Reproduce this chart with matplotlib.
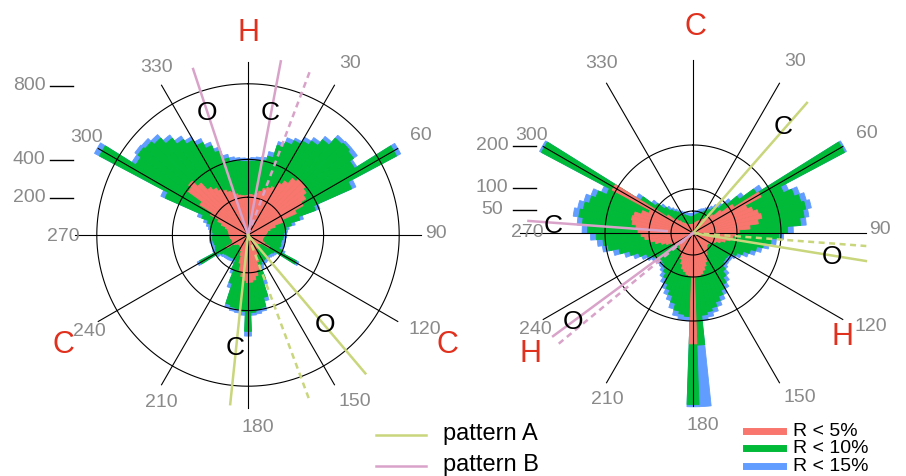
import numpy as np
import matplotlib
matplotlib.use("Agg")
import matplotlib.pyplot as plt
from matplotlib.lines import Line2D

plt.rcParams['font.family'] = ['Liberation Sans', 'DejaVu Sans']

# angular bins (degrees, clockwise from north), 4 degree wide
theta = np.arange(0, 360, 4)

# left panel counts, one value per bin
left_r15 = [405, 410, 415, 420, 455, 520, 555, 570, 598, 622, 662, 710, 715, 715, 680,
            915, 625, 405, 305, 255, 220, 210, 205, 205, 200, 200, 195, 200, 195, 215,
            305, 180, 175, 170, 165, 170, 172, 175, 180, 195, 275, 360, 410, 420, 425,
            535, 425, 415, 410, 400, 295, 220, 170, 162, 165, 168, 170, 172, 178, 195,
            305, 205, 200, 198, 200, 205, 205, 202, 200, 205, 212, 225, 245, 285, 505,
            920, 725, 740, 735, 715, 672, 632, 600, 568, 530, 490, 440, 420, 412, 408]
left_r10 = [390, 392, 396, 405, 430, 500, 530, 555, 575, 600, 640, 690, 700, 690, 665,
            890, 600, 380, 285, 235, 205, 195, 190, 188, 185, 180, 178, 182, 178, 200,
            290, 165, 155, 152, 150, 152, 155, 158, 160, 170, 250, 340, 390, 400, 410,
            510, 405, 395, 390, 380, 270, 200, 150, 145, 148, 150, 152, 155, 160, 175,
            290, 190, 185, 182, 185, 188, 190, 188, 185, 190, 195, 205, 225, 260, 480,
            890, 700, 720, 710, 690, 650, 610, 580, 545, 510, 470, 420, 400, 395, 390]
left_r5 = [210, 215, 212, 225, 240, 260, 272, 285, 320, 345, 380, 400, 395, 380, 360,
           330, 280, 200, 150, 120, 105, 98, 95, 90, 85, 82, 80, 80, 82, 95,
           130, 80, 72, 70, 70, 72, 78, 85, 95, 115, 150, 190, 220, 240, 250,
           252, 240, 222, 195, 155, 115, 92, 80, 75, 72, 70, 70, 72, 78, 88,
           130, 92, 88, 88, 90, 95, 96, 100, 100, 102, 105, 110, 125, 150, 175,
           225, 300, 390, 410, 370, 320, 300, 280, 265, 250, 240, 225, 215, 210, 208]

# right panel counts
right_r15 = [45, 48, 50, 52, 55, 58, 60, 64, 68, 74, 82, 92, 112, 142, 185,
             395, 238, 258, 268, 275, 266, 258, 228, 206, 190, 175, 160, 148, 134, 120,
             110, 105, 104, 105, 110, 122, 134, 146, 156, 166, 176, 186, 194, 200, 395,
             395, 200, 198, 192, 178, 162, 152, 142, 132, 122, 112, 106, 104, 105, 110,
             118, 128, 144, 162, 185, 208, 218, 233, 252, 264, 275, 268, 258, 247, 228,
             395, 152, 116, 95, 82, 73, 66, 60, 56, 52, 50, 48, 46, 45, 45]
right_r10 = [38, 40, 42, 44, 46, 50, 52, 56, 60, 65, 72, 80, 100, 130, 170,
             390, 225, 245, 255, 262, 255, 245, 215, 195, 178, 162, 148, 136, 122, 110,
             100, 95, 94, 95, 100, 110, 122, 135, 145, 155, 165, 175, 182, 188, 255,
             390, 190, 186, 180, 165, 150, 140, 130, 120, 110, 102, 96, 94, 95, 100,
             106, 116, 132, 150, 172, 195, 205, 220, 240, 252, 262, 255, 245, 235, 215,
             390, 140, 105, 85, 72, 64, 58, 52, 48, 45, 42, 40, 38, 37, 37]
right_r5 = [20, 22, 22, 25, 25, 28, 30, 32, 35, 38, 42, 50, 60, 80, 110,
            175, 135, 145, 155, 160, 150, 130, 105, 98, 90, 86, 75, 65, 55, 48,
            45, 42, 42, 42, 45, 48, 52, 58, 65, 72, 80, 88, 95, 98, 100,
            252, 98, 95, 90, 85, 75, 65, 58, 52, 48, 45, 42, 42, 42, 45,
            48, 55, 65, 75, 88, 100, 110, 118, 125, 130, 140, 143, 140, 125, 110,
            208, 70, 50, 40, 32, 28, 25, 22, 22, 20, 20, 20, 20, 20, 20]

left_rings = [200, 400, 800]
right_rings = [50, 100, 200]
spokes = np.arange(0, 360, 30)

# pattern lines: (angle, length, pattern, dashed)
left_lines = [(341.7, 925, 'B', False), (10.7, 935, 'B', False), (20.7, 925, 'B', True),
              (186.0, 900, 'A', False), (139.7, 960, 'A', False), (159.6, 925, 'A', True)]
right_lines = [(41.2, 393, 'A', False), (274.2, 375, 'B', False), (99.2, 398, 'A', False),
               (94.3, 395, 'A', True), (233.6, 395, 'B', False), (230.5, 397, 'B', True)]

RED, GREEN, BLUE = '#f8766d', '#00ba38', '#619cff'
PAT = {'A': '#c9d67c', 'B': '#d9a3c9'}
GRAY = '#8a8a8a'

W, H = 906, 477
fig = plt.figure(figsize=(W / 100, H / 100), dpi=100)


def polar(cx, cy, rmax, scale):
    rad = rmax * scale
    ax = fig.add_axes([(cx - rad) / W, (H - cy - rad) / H, 2 * rad / W, 2 * rad / H],
                      projection='polar')
    ax.set_theta_zero_location('N')
    ax.set_theta_direction(-1)
    ax.set_ylim(0, rmax)
    ax.axis('off')
    return ax


def draw(ax, r15, r10, r5, rings, spoke_len, lines, start=None):
    t = np.deg2rad(theta)
    w = np.deg2rad(4)
    # edge in the same colour closes the hairline gaps between neighbouring bins
    for vals, c in [(r15, BLUE), (r10, GREEN), (r5, RED)]:
        ax.bar(t, vals, width=w, color=c, edgecolor=c, linewidth=0.6)
    circ = np.linspace(0, 2 * np.pi, 400)
    for r in rings:
        ax.plot(circ, np.full_like(circ, r), color='black', lw=0.8)
    for a in spokes:
        ax.plot([np.deg2rad(a)] * 2, [0, spoke_len], color='black', lw=0.8)
    for i, (a, length, pat, dashed) in enumerate(lines):
        r0 = 0 if start is None else start[i]
        ls = (0, (2.4, 1.8)) if dashed else '-'
        ax.plot([np.deg2rad(a)] * 2, [r0, length], color=PAT[pat], lw=1.8, linestyle=ls)


axl = polar(248, 236, 1000, 0.189)
draw(axl, left_r15, left_r10, left_r5, left_rings, 915, left_lines)
axr = polar(693, 234, 420, 0.44)
draw(axr, right_r15, right_r10, right_r5, right_rings, 393, right_lines,
     start=[0, 60, 0, 0, 0, 0])


def ftext(x, y, s, **kw):
    fig.text(x / W, 1 - y / H, s, ha='center', va='center', **kw)


def fline(x0, x1, y, **kw):
    fig.add_artist(Line2D([x0 / W, x1 / W], [1 - y / H, 1 - y / H], **kw))


# angle labels
left_lab = {330: (157, 67), 30: (350, 64), 300: (87, 138), 60: (421, 136),
            270: (63, 237), 90: (436, 234), 120: (425, 329), 240: (89, 332),
            210: (161, 403), 150: (355, 402), 180: (258, 428)}
right_lab = {330: (602, 63), 30: (795, 62), 300: (532, 136), 60: (867, 133),
             270: (527, 233), 90: (880, 230), 120: (871, 327), 240: (535, 330),
             210: (607, 400), 150: (800, 398), 180: (703, 426)}
for lab in (left_lab, right_lab):
    for a, (x, y) in lab.items():
        ftext(x, y, str(a), color=GRAY, fontsize=14)

# radial scale marks
for v, y in zip(left_rings, [198, 160, 86]):
    ftext(29, y, str(v), color=GRAY, fontsize=14)
    fline(50, 73, y + 1, color='black', lw=1)
for v, y in zip(right_rings, [210, 188, 146]):
    ftext(492, y, str(v), color=GRAY, fontsize=14)
    fline(513, 536, y + 1, color='black', lw=1)

# atom labels
for s, x, y in [('H', 248, 33), ('C', 63, 345), ('C', 447, 345),
                ('C', 695, 27), ('H', 530, 354), ('H', 843, 337)]:
    ftext(x, y, s, color='#e0301e', fontsize=22)
for s, x, y in [('O', 207, 113), ('C', 270, 113), ('C', 235, 348), ('O', 325, 325),
                ('C', 783, 127), ('C', 553, 226), ('O', 832, 257), ('O', 573, 322)]:
    ftext(x, y, s, color='black', fontsize=19)

# legends
for pat, y, name in [('A', 436, 'pattern A'), ('B', 467, 'pattern B')]:
    fline(376, 426, y, color=PAT[pat], lw=1.8)
    fig.text(443 / W, 1 - (y - 2) / H, name, ha='left', va='center', fontsize=17)
for c, y, name in [(RED, 432, 'R < 5%'), (GREEN, 449, 'R < 10%'), (BLUE, 467, 'R < 15%')]:
    fline(746, 783, y, color=c, lw=5)
    fig.text(793 / W, 1 - y / H, name, ha='left', va='center', fontsize=14)

fig.savefig('out.png', dpi=100)
